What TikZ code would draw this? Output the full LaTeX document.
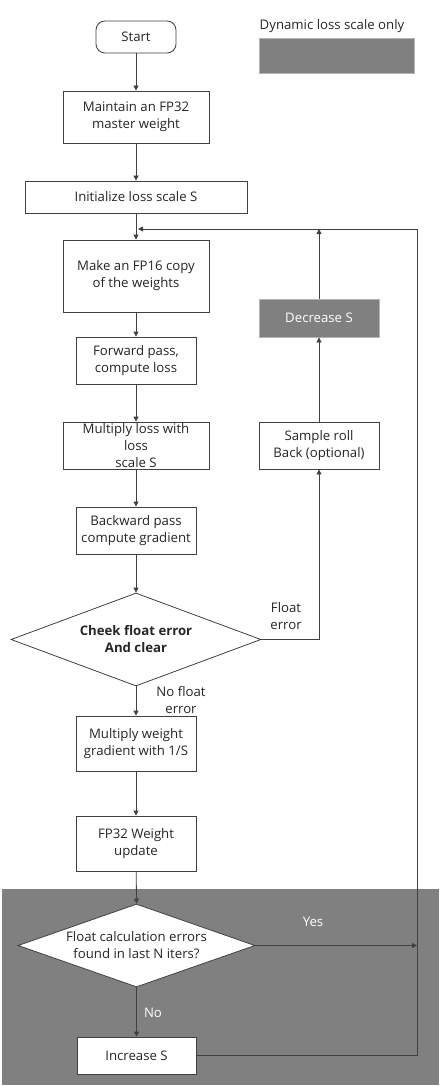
\documentclass[tikz,border=0pt]{standalone}
\usepackage{fontspec}
\setmainfont{Open Sans}
\usetikzlibrary{arrows.meta,shapes.geometric}
\definecolor{ink}{HTML}{262626}
\definecolor{lin}{HTML}{404040}
\definecolor{dyn}{HTML}{808080}
\definecolor{lbd}{HTML}{B4B4B4}
\begin{document}
\begin{tikzpicture}[x=1pt,y=-1pt,
  every node/.style={font=\fontsize{13.2}{17}\selectfont, text=ink, align=center},
  box/.style={draw=lin, line width=0.8pt, fill=white, inner sep=0pt},
  dbox/.style={draw=lbd, line width=0.8pt, fill=dyn, inner sep=0pt, text=white},
  dia/.style={draw=lin, line width=0.8pt, diamond, inner sep=0pt},
  arr/.style={draw=lin, line width=0.8pt, -{Triangle[width=5pt,length=5pt]}},
  ln/.style={draw=lin, line width=0.8pt},
  lab/.style={inner sep=0pt}]
\useasboundingbox (0,0) rectangle (441,1086);
% dynamic region background
\fill[dyn] (2,889) rectangle (439,1085);
% legend
\node[lab] (legt) at (332,26) {Dynamic loss scale only};
\node[dbox, minimum width=155pt, minimum height=35pt] (leg) at (336.5,55.5) {};
% main nodes
\node[box, rounded corners=9pt, minimum width=80pt, minimum height=32pt] (start) at (136,37) {Start};
\node[box, minimum width=146pt, minimum height=52pt] (mast) at (136,117) {Maintain an FP32\\master weight};
\node[box, minimum width=222pt, minimum height=32pt] (init) at (136,197) {Initialize loss scale S};
\node[box, minimum width=146pt, minimum height=72pt] (copy) at (136,276) {Make an FP16 copy\\of the weights};
\node[box, minimum width=120pt, minimum height=47pt] (fwd) at (136,360.5) {Forward pass,\\compute loss};
\node[box, minimum width=146pt, minimum height=47pt] (mul) at (136,445.5) {};
\node[lab] (multxt) at (136,446) {Multiply loss with\\loss\\scale S};
\node[box, minimum width=120pt, minimum height=47pt] (bwd) at (136,530.5) {Backward pass\\compute gradient};
\node[dia, minimum width=250pt, minimum height=93pt, aspect=2.69] (chk) at (136,639.5) {};
\node[lab, font=\fontsize{13.2}{17}\selectfont\bfseries] (chktxt) at (136,639.5) {Cheek float error\\And clear};
\node[box, minimum width=120pt, minimum height=55pt] (mw) at (136,743.5) {Multiply weight\\gradient with 1/S};
\node[box, minimum width=120pt, minimum height=55pt] (upd) at (136,843.5) {FP32 Weight\\update};
\node[dia, fill=white, minimum width=237pt, minimum height=83pt, aspect=2.86] (fc) at (136.5,945.5) {};
\node[lab] (fctxt) at (136.5,945.5) {Float calculation errors\\found in last N iters?};
\node[box, minimum width=119pt, minimum height=37pt] (inc) at (136.5,1055.5) {Increase S};
% right column
\node[box, minimum width=120pt, minimum height=47pt] (samp) at (319,445.5) {Sample roll\\Back (optional)};
\node[dbox, minimum width=120pt, minimum height=38pt] (dec) at (319,318) {Decrease S};
% labels
\node[lab] (lfe) at (286,616) {Float\\error};
\node[lab] (lnfe) at (181,700) {No float\\error};
\node[lab, text=white] (lyes) at (313,922) {Yes};
\node[lab, text=white] (lno) at (153,1013) {No};
% coordinates
\coordinate (loopr) at (417,229);
\coordinate (loopl) at (138,229);
\coordinate (yesend) at (417,945.5);
\coordinate (decup) at (319,229);
% connectors
\draw[arr] (start) -- (mast);
\draw[arr] (mast) -- (init);
\draw[arr] (init) -- (copy);
\draw[arr] (copy) -- (fwd);
\draw[arr] (fwd) -- (mul);
\draw[arr] (mul) -- (bwd);
\draw[arr] (bwd) -- (chk.north);
\draw[arr] (chk.south) -- (mw);
\draw[arr] (mw) -- (upd);
\draw[arr] (upd) -- (fc.north);
\draw[arr] (fc.south) -- (inc);
\draw[arr] (chk.east) -| (samp.south);
\draw[arr] (samp) -- (dec);
\draw[arr] (dec) -- (decup);
\draw[arr] (fc.east) -- (yesend);
\draw[arr] (inc.east) -| (loopr) -- (loopl);
\end{tikzpicture}
\end{document}
